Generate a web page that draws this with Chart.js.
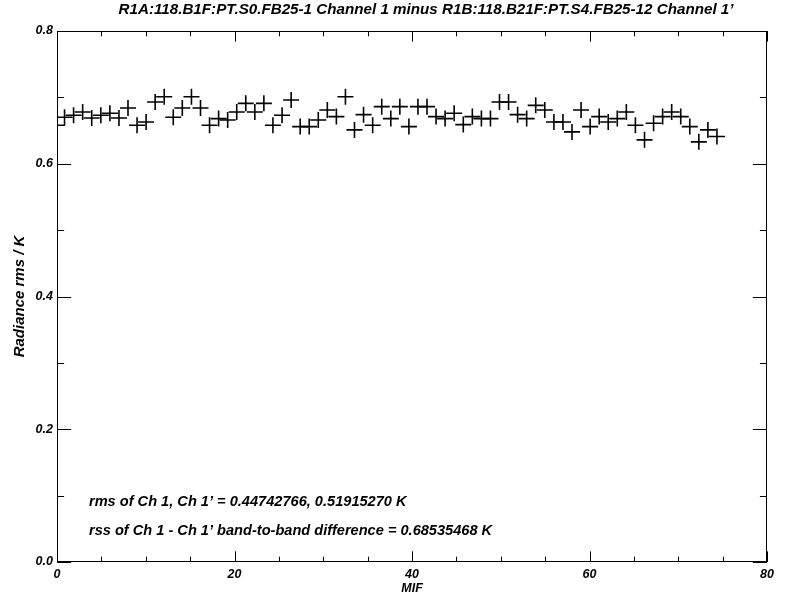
<!DOCTYPE html>
<html>
<head>
    <title>Channel 1 minus Channel 1' rms</title>
    <script src="https://cdn.jsdelivr.net/npm/chart.js"></script>
    <style>
        body {
            margin: 0;
            background-color: white;
        }

        .chart-box {
            width: 788px;
            height: 596px;
        }
    </style>
</head>
<body>
    <div class="chart-box">
        <canvas id="rmsChart" width="788" height="596"></canvas>
    </div>

    <script>
        // MIF position (x) and radiance rms (y)
        const mif = [
            0.0, 0.85, 1.87, 2.89, 3.91, 4.94, 5.96, 6.98, 8.00, 9.02,
            10.04, 11.06, 12.08, 13.10, 14.12, 15.15, 16.17, 17.19, 18.21, 19.23,
            20.25, 21.27, 22.29, 23.31, 24.33, 25.36, 26.38, 27.40, 28.42, 29.44,
            30.46, 31.48, 32.50, 33.52, 34.54, 35.57, 36.59, 37.61, 38.63, 39.65,
            40.67, 41.69, 42.71, 43.73, 44.75, 45.78, 46.80, 47.82, 48.84, 49.86,
            50.88, 51.90, 52.92, 53.94, 54.96, 55.99, 57.01, 58.03, 59.05, 60.07,
            61.09, 62.11, 63.13, 64.15, 65.17, 66.20, 67.22, 68.24, 69.26, 70.28,
            71.30, 72.32, 73.34, 74.36
        ];
        const radianceRms = [
            0.658, 0.670, 0.673, 0.678, 0.669, 0.673, 0.676, 0.669, 0.684, 0.658,
            0.663, 0.693, 0.701, 0.670, 0.684, 0.701, 0.684, 0.658, 0.668, 0.666,
            0.678, 0.691, 0.678, 0.691, 0.658, 0.673, 0.696, 0.656, 0.656, 0.666,
            0.681, 0.671, 0.701, 0.651, 0.674, 0.658, 0.686, 0.668, 0.686, 0.656,
            0.686, 0.686, 0.671, 0.668, 0.676, 0.659, 0.671, 0.668, 0.668, 0.693,
            0.693, 0.674, 0.668, 0.688, 0.681, 0.663, 0.663, 0.648, 0.681, 0.656,
            0.671, 0.663, 0.668, 0.678, 0.658, 0.636, 0.661, 0.671, 0.678, 0.671,
            0.656, 0.633, 0.651, 0.641
        ];

        const xTicks = [0, 20, 40, 60, 80];
        const xMinorTicks = [5, 10, 15, 25, 30, 35, 45, 50, 55, 65, 70, 75];
        const yTicks = [0.0, 0.2, 0.4, 0.6, 0.8];
        const yMinorTicks = [0.1, 0.3, 0.5, 0.7];

        const chartTitle = 'R1A:118.B1F:PT.S0.FB25-1 Channel 1 minus R1B:118.B21F:PT.S4.FB25-12 Channel 1\u2019';
        const notes = [
            'rms of Ch 1, Ch 1\u2019 = 0.44742766, 0.51915270 K',
            'rss of Ch 1 - Ch 1\u2019 band-to-band difference = 0.68535468 K'
        ];

        const fontFamily = '"Liberation Sans", Arial, sans-serif';

        // IDL style box: inward ticks on all four sides, title and notes
        const idlFrame = {
            id: 'idlFrame',
            afterDraw(chart) {
                const ctx = chart.ctx;
                const area = chart.chartArea;
                const xs = chart.scales.x;
                const ys = chart.scales.y;
                const w = area.right - area.left;
                const h = area.bottom - area.top;
                const xMajor = h * 0.02, xMinor = xMajor / 2;
                const yMajor = w * 0.02, yMinor = yMajor / 2;

                ctx.save();
                ctx.strokeStyle = '#000';
                ctx.lineWidth = 1;
                ctx.strokeRect(area.left + 0.5, area.top + 0.5, w - 1, h - 1);

                ctx.beginPath();
                const xTick = (v, len) => {
                    const px = Math.round(xs.getPixelForValue(v)) + 0.5;
                    ctx.moveTo(px, area.bottom);
                    ctx.lineTo(px, area.bottom - len);
                    ctx.moveTo(px, area.top);
                    ctx.lineTo(px, area.top + len);
                };
                const yTick = (v, len) => {
                    const py = Math.round(ys.getPixelForValue(v)) + 0.5;
                    ctx.moveTo(area.left, py);
                    ctx.lineTo(area.left + len, py);
                    ctx.moveTo(area.right, py);
                    ctx.lineTo(area.right - len, py);
                };
                xTicks.forEach(v => xTick(v, xMajor));
                xMinorTicks.forEach(v => xTick(v, xMinor));
                yTicks.forEach(v => yTick(v, yMajor));
                yMinorTicks.forEach(v => yTick(v, yMinor));
                ctx.stroke();

                // title
                ctx.fillStyle = '#000';
                ctx.textAlign = 'center';
                ctx.textBaseline = 'middle';
                ctx.font = 'italic bold 15.2px ' + fontFamily;
                ctx.fillText(chartTitle, 426, 10);

                // notes inside the plot
                ctx.textAlign = 'left';
                ctx.font = 'italic bold 14.6px ' + fontFamily;
                ctx.fillText(notes[0], xs.getPixelForValue(3.6), ys.getPixelForValue(0.091));
                ctx.fillText(notes[1], xs.getPixelForValue(3.6), ys.getPixelForValue(0.047));
                ctx.restore();
            }
        };

        new Chart(document.getElementById('rmsChart'), {
            type: 'scatter',
            data: {
                datasets: [{
                    data: mif.map((m, i) => ({ x: m, y: radianceRms[i] })),
                    pointStyle: 'cross',
                    pointRadius: 8,
                    pointHoverRadius: 8,
                    borderColor: '#000',
                    backgroundColor: '#000',
                    borderWidth: 1.6,
                    showLine: false
                }]
            },
            options: {
                responsive: false,
                animation: false,
                layout: {
                    padding: { top: 31, right: 21, left: 0, bottom: 0 }
                },
                plugins: {
                    legend: { display: false },
                    tooltip: { enabled: false }
                },
                scales: {
                    x: {
                        type: 'linear',
                        min: 0,
                        max: 80,
                        grid: { display: false, drawTicks: false },
                        border: { display: false },
                        afterFit: scale => { scale.height = 34; },
                        afterBuildTicks: scale => {
                            scale.ticks = xTicks.map(v => ({ value: v }));
                        },
                        ticks: {
                            padding: 5,
                            maxRotation: 0,
                            color: '#000',
                            font: { family: fontFamily, size: 12.5, style: 'italic', weight: 'bold' }
                        },
                        title: {
                            display: true,
                            text: 'MIF',
                            color: '#000',
                            padding: { top: 0, bottom: 0 },
                            font: { family: fontFamily, size: 12.5, style: 'italic', weight: 'bold' }
                        }
                    },
                    y: {
                        type: 'linear',
                        min: 0,
                        max: 0.8,
                        grid: { display: false, drawTicks: false },
                        border: { display: false },
                        afterFit: scale => { scale.width = 57; },
                        afterBuildTicks: scale => {
                            scale.ticks = yTicks.map(v => ({ value: v }));
                        },
                        ticks: {
                            padding: 4,
                            color: '#000',
                            callback: v => Number(v).toFixed(1),
                            font: { family: fontFamily, size: 12.5, style: 'italic', weight: 'bold' }
                        },
                        title: {
                            display: true,
                            text: 'Radiance rms / K',
                            color: '#000',
                            padding: { top: 11, bottom: 0 },
                            font: { family: fontFamily, size: 15, style: 'italic', weight: 'bold' }
                        }
                    }
                }
            },
            plugins: [idlFrame]
        });
    </script>
</body>
</html>
